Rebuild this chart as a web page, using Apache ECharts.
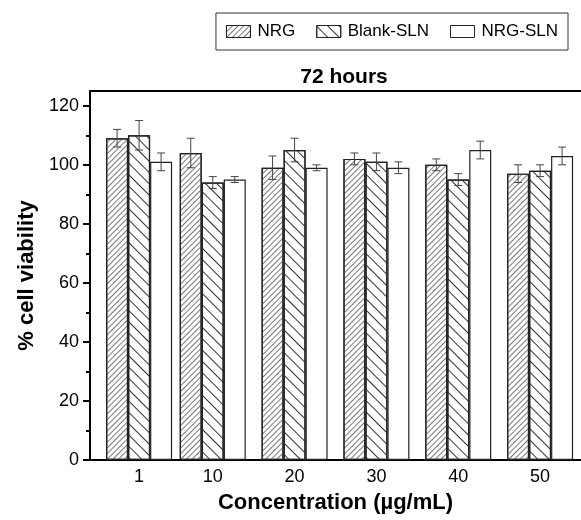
<!DOCTYPE html>
<html>
<head>
<meta charset="utf-8">
<script src="https://cdn.jsdelivr.net/npm/echarts@6/dist/echarts.min.js"></script>
<style>
html,body{margin:0;padding:0;background:#fff;}
#chart{width:581px;height:520px;}
</style>
</head>
<body>
<div id="chart"></div>
<script>
const seriesNames = ['NRG', 'Blank-SLN', 'NRG-SLN'];
const concentrations = [1, 10, 20, 30, 40, 50];
const xTickLabels = ['1', '10', '20', '30', '40', '50'];
const nrg = [109, 104, 99, 102, 100, 97];
const nrgErr = [3, 5, 4, 2, 2, 3];
const blankSln = [110, 94, 105, 101, 95, 98];
const blankSlnErr = [5, 2, 4, 3, 2, 2];
const nrgSln = [101, 95, 99, 99, 105, 103];
const nrgSlnErr = [3, 1, 1, 2, 3, 3];
const yMajorTicks = [0, 20, 40, 60, 80, 100, 120];
const yMinorTicks = [10, 30, 50, 70, 90, 110];

const FONT = 'Liberation Sans, Arial, sans-serif';
const BAR_W = 22;

const values = [nrg, blankSln, nrgSln];
const errors = [nrgErr, blankSlnErr, nrgSlnErr];
const decals = [
  { symbol: 'rect', symbolSize: 1, dashArrayX: [1, 0], dashArrayY: [1, 3], rotation: -Math.PI / 4, color: '#777' },
  { symbol: 'rect', symbolSize: 1, dashArrayX: [1, 0], dashArrayY: [1, 7], rotation: Math.PI / 4, color: '#333' },
  null
];

const chart = echarts.init(document.getElementById('chart'), null, { renderer: 'canvas' });

const barSeries = seriesNames.map((name, s) => ({
  name: name,
  type: 'bar',
  xAxisIndex: 0,
  yAxisIndex: 0,
  barWidth: BAR_W,
  barGap: '0%',
  itemStyle: Object.assign({ color: '#fff', borderColor: '#222', borderWidth: 1.2 },
    decals[s] ? { decal: decals[s] } : {}),
  emphasis: { disabled: true },
  data: concentrations.map((c, i) => [c, values[s][i]])
}));

const errSeries = seriesNames.map((name, s) => ({
  type: 'custom',
  xAxisIndex: 0,
  yAxisIndex: 0,
  silent: true,
  z: 5,
  renderItem: function (params, api) {
    const x = api.value(0);
    const lo = api.coord([x, api.value(1)]);
    const hi = api.coord([x, api.value(2)]);
    const px = lo[0] + (s - 1) * BAR_W;
    const cap = 4;
    const st = { stroke: '#444', lineWidth: 1 };
    return {
      type: 'group',
      children: [
        { type: 'line', shape: { x1: px, y1: lo[1], x2: px, y2: hi[1] }, style: st },
        { type: 'line', shape: { x1: px - cap, y1: lo[1], x2: px + cap, y2: lo[1] }, style: st },
        { type: 'line', shape: { x1: px - cap, y1: hi[1], x2: px + cap, y2: hi[1] }, style: st }
      ]
    };
  },
  data: concentrations.map((c, i) => [c, values[s][i] - errors[s][i], values[s][i] + errors[s][i]])
}));

const option = {
  animation: false,
  backgroundColor: '#fff',
  textStyle: { fontFamily: FONT },
  title: {
    text: '72 hours',
    left: 339,
    textAlign: 'center',
    top: 62,
    textStyle: { fontFamily: FONT, fontSize: 21, fontWeight: 'bold', color: '#000' }
  },
  legend: {
    data: seriesNames,
    icon: 'rect',
    right: 13,
    top: 13,
    orient: 'horizontal',
    itemWidth: 24,
    itemHeight: 12,
    itemGap: 21,
    padding: [10, 10],
    borderColor: '#333',
    borderWidth: 1,
    selectedMode: false,
    itemStyle: { borderWidth: 1 },
    textStyle: { fontFamily: FONT, fontSize: 17, color: '#000', padding: [0, 0, 0, 2] }
  },
  grid: { left: 90, top: 91, width: 498, height: 369, containLabel: false },
  xAxis: [
    {
      type: 'value', min: -5, max: 55, position: 'bottom',
      axisLine: { show: true, onZero: false, lineStyle: { color: '#000', width: 2 } },
      axisTick: { show: false },
      splitLine: { show: false },
      axisLabel: {
        customValues: concentrations,
        formatter: function (v) { return xTickLabels[concentrations.indexOf(v)]; },
        fontFamily: FONT, fontSize: 18, color: '#000', margin: 8
      },
      name: 'Concentration (µg/mL)',
      nameLocation: 'middle',
      nameGap: 32,
      nameTextStyle: { fontFamily: FONT, fontSize: 22, fontWeight: 'bold', color: '#000' }
    },
    {
      type: 'value', min: -5, max: 55, position: 'top',
      axisLine: { show: true, onZero: false, lineStyle: { color: '#000', width: 2 } },
      axisTick: { show: false }, axisLabel: { show: false }, splitLine: { show: false }
    }
  ],
  yAxis: [
    {
      type: 'value', min: 0, max: 125, position: 'left',
      axisLine: { show: true, onZero: false, lineStyle: { color: '#000', width: 2 } },
      axisTick: { show: true, customValues: yMajorTicks, length: 7, lineStyle: { color: '#000', width: 2 } },
      axisLabel: { customValues: yMajorTicks, fontFamily: FONT, fontSize: 18, color: '#000', margin: 11 },
      splitLine: { show: false },
      name: '% cell viability',
      nameLocation: 'middle',
      nameGap: 52,
      nameTextStyle: { fontFamily: FONT, fontSize: 22, fontWeight: 'bold', color: '#000' }
    },
    {
      type: 'value', min: 0, max: 125, position: 'left',
      axisLine: { show: false, onZero: false },
      axisTick: { show: true, customValues: yMinorTicks, length: 4, lineStyle: { color: '#000', width: 2 } },
      axisLabel: { show: false },
      splitLine: { show: false }
    }
  ],
  series: barSeries.concat(errSeries)
};

chart.setOption(option);
</script>
</body>
</html>
